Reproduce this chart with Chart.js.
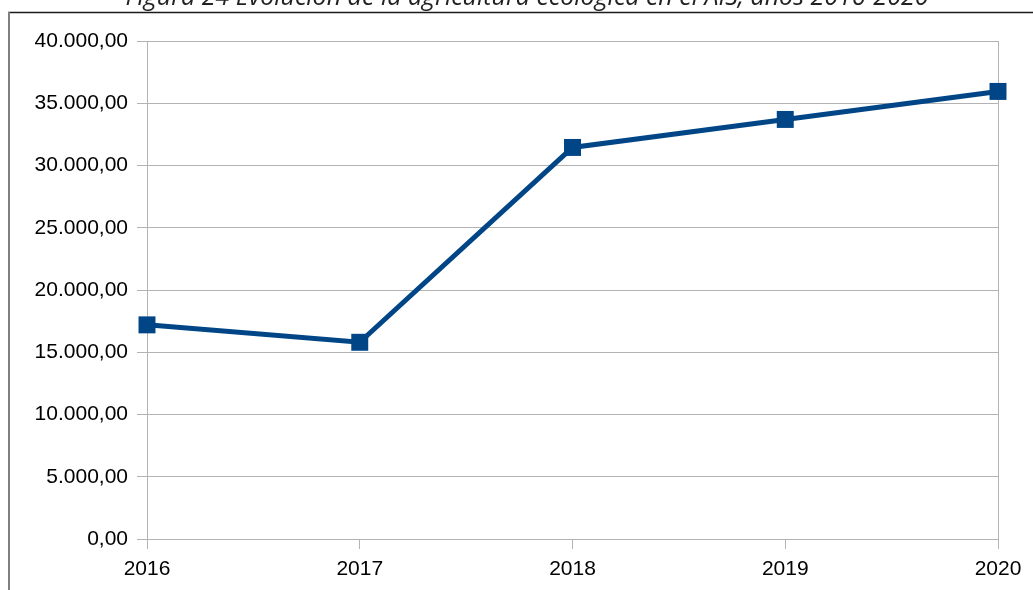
<!DOCTYPE html>
<html lang="es">
<head>
    <meta charset="UTF-8">
    <script src="https://cdn.jsdelivr.net/npm/chart.js"></script>
    <title>Agricultura ecológica AIS</title>
    <style>
        html, body { margin: 0; padding: 0; background: #fff; }
        #wrap { width: 1033px; height: 590px; position: relative; }
    </style>
</head>
<body>
<div id="wrap"><canvas id="chart" width="1033" height="590"></canvas></div>

<script>
    const titleText = 'Figura 24 Evolución de la agricultura ecológica en el AIS, años 2016-2020';
    const years = ['2016', '2017', '2018', '2019', '2020'];
    const hectares = [17200, 15800, 31450, 33700, 35950];
    const yMin = 0, yMax = 40000, yStep = 5000;

    // 40000 -> "40.000,00"
    function fmt(v) {
        const parts = Math.round(v).toString().replace(/\B(?=(\d{3})+(?!\d))/g, '.');
        return parts + ',00';
    }

    const gridGrey = '#b3b3b3';

    // frame lines and the half-cut caption above the chart
    const framePlugin = {
        id: 'frame',
        afterDraw(chart) {
            const ctx = chart.ctx;
            ctx.save();
            ctx.strokeStyle = '#1a1a1a';
            ctx.lineWidth = 1.5;
            ctx.beginPath();
            ctx.moveTo(8, 12.5);
            ctx.lineTo(1033, 12.5);
            ctx.stroke();
            ctx.strokeStyle = '#7f7f7f';
            ctx.lineWidth = 2;
            ctx.beginPath();
            ctx.moveTo(9, 12);
            ctx.lineTo(9, 590);
            ctx.stroke();

            ctx.fillStyle = '#222';
            ctx.font = 'italic 25px "Open Sans"';
            ctx.textAlign = 'center';
            ctx.textBaseline = 'alphabetic';
            ctx.fillText(titleText, 527, 5, 828);
            ctx.restore();
        }
    };

    new Chart(document.getElementById('chart'), {
        type: 'line',
        data: {
            labels: years,
            datasets: [{
                data: hectares,
                borderColor: '#004586',
                backgroundColor: '#004586',
                borderWidth: 5,
                pointStyle: 'rect',
                pointRadius: 12,
                pointBorderWidth: 0,
                tension: 0
            }]
        },
        options: {
            responsive: false,
            animation: false,
            layout: { padding: { left: 0, top: 41, right: 35, bottom: 0 } },
            plugins: {
                legend: { display: false },
                tooltip: { enabled: false }
            },
            scales: {
                x: {
                    offset: false,
                    afterFit: s => { s.height = 51; },
                    border: { color: gridGrey },
                    grid: {
                        color: c => (c.index === years.length - 1 ? gridGrey : 'rgba(0,0,0,0)'),
                        tickColor: gridGrey,
                        tickLength: 10
                    },
                    ticks: {
                        color: '#000',
                        padding: 8,
                        maxRotation: 0,
                        font: { family: '"Liberation Sans"', size: 21 }
                    }
                },
                y: {
                    min: yMin,
                    max: yMax,
                    afterFit: s => { s.width = 147; },
                    border: { color: gridGrey },
                    grid: { color: gridGrey, tickColor: gridGrey, tickLength: 10 },
                    ticks: {
                        stepSize: yStep,
                        color: '#000',
                        padding: 9,
                        callback: v => fmt(v),
                        font: { family: '"Liberation Sans"', size: 21 }
                    }
                }
            }
        },
        plugins: [framePlugin]
    });
</script>
</body>
</html>
